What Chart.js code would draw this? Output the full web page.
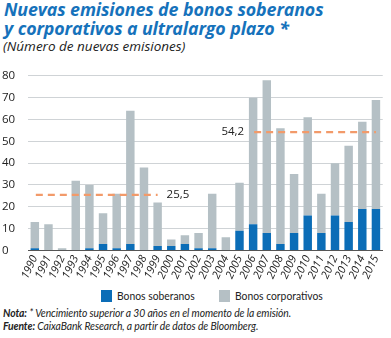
<!DOCTYPE html>
<html>
<head>
<meta charset="utf-8">
<script src="https://cdn.jsdelivr.net/npm/chart.js@4/dist/chart.umd.min.js"></script>
<style>
  html, body { margin: 0; padding: 0; background: #fff; }
  body { width: 391px; height: 338px; position: relative; overflow: hidden; font-family: "Open Sans", sans-serif; }
  #title { position: absolute; left: 4px; top: 0px; font-weight: bold; font-style: italic; color: #1672bb; font-size: 17.8px; line-height: 18.5px; letter-spacing: -0.1px; }
  #sub { position: absolute; left: 3px; top: 37px; font-style: italic; color: #222; font-size: 13.5px; }
  #wrap { position: absolute; left: 0; top: 59px; width: 391px; height: 225px; }
  #legend { position: absolute; top: 288px; left: 0; width: 391px; font-family: Lato, sans-serif; font-size: 12px; color: #222; }
  #legend span.item { position: absolute; top: 0; white-space: nowrap; }
  #legend i { display: inline-block; width: 11px; height: 12px; vertical-align: -2px; margin-right: 5px; }
  #legend em { font-style: normal; display: inline-block; transform: scaleX(0.86); transform-origin: 0 50%; }
  #notes { position: absolute; left: 3px; top: 306px; font-family: Lato, sans-serif; font-style: italic; font-size: 11px; line-height: 13px; color: #222; letter-spacing: -0.1px; transform: scaleX(0.94); transform-origin: 0 0; white-space: nowrap; }
  #notes b { font-weight: bold; }
</style>
</head>
<body>
<div id="title">Nuevas emisiones de bonos soberanos<br>y corporativos a ultralargo plazo *</div>
<div id="sub">(Número de nuevas emisiones)</div>
<div id="wrap"><canvas id="c"></canvas></div>
<div id="legend"></div>
<div id="notes"><b>Nota:</b> * Vencimiento superior a 30 años en el momento de la emisión.<br><b>Fuente:</b> CaixaBank Research, a partir de datos de Bloomberg.</div>
<script>
const years = ["1990","1991","1992","1993","1994","1995","1996","1997","1998","1999","2000","2001","2002","2003","2004","2005","2006","2007","2008","2009","2010","2011","2012","2013","2014","2015"];
// Total new issues per year and the sovereign part of them
const totalIssues = [13,12,1,32,30,17,26,64,38,22,5,7,8,26,6,31,70,78,56,35,61,26,40,48,59,69];
const sovereign   = [1,0,0,0,1,3,1,3,0,2,2,3,1,1,0,9,12,8,3,8,16,8,16,13,19,19];
const corporate   = totalIssues.map((t, i) => t - sovereign[i]);
// Period averages: [value, first year, last year]
const averages = [
  { value: 25.5, from: "1990", to: "1999", label: "25,5", side: "right" },
  { value: 54.2, from: "2006", to: "2015", label: "54,2", side: "left" }
];
const yTicks = [0,10,20,30,40,50,60,70,80];
const seriesNames = ["Bonos soberanos", "Bonos corporativos"];
const seriesColors = ["#0b6db7", "#b5c0c5"];

const averageLines = {
  id: 'averageLines',
  afterDatasetsDraw(chart) {
    const { ctx, scales: { x, y } } = chart;
    ctx.save();
    averages.forEach(a => {
      const x0 = x.getPixelForValue(years.indexOf(a.from));
      const x1 = x.getPixelForValue(years.indexOf(a.to));
      const py = y.getPixelForValue(a.value);
      ctx.strokeStyle = '#f29a6a';
      ctx.lineWidth = 2.2;
      ctx.setLineDash([7, 5]);
      ctx.beginPath();
      ctx.moveTo(x0 + 1, py);
      ctx.lineTo(x1, py);
      ctx.stroke();
      ctx.setLineDash([]);
      ctx.fillStyle = '#222';
      ctx.font = '11.5px "Open Sans", sans-serif';
      ctx.textBaseline = 'middle';
      if (a.side === 'right') {
        ctx.textAlign = 'left';
        ctx.fillText(a.label, x1 + 9, py);
      } else {
        ctx.textAlign = 'right';
        ctx.fillText(a.label, x0 - 9, py);
      }
    });
    ctx.restore();
  }
};

// Legend drawn below the plot
const legendEl = document.getElementById('legend');
const legendX = [101, 219];
seriesNames.forEach((n, i) => {
  const s = document.createElement('span');
  s.className = 'item';
  s.style.left = legendX[i] + 'px';
  s.innerHTML = '<i style="background:' + seriesColors[i] + '"></i><em>' + n + '</em>';
  legendEl.appendChild(s);
});

new Chart(document.getElementById('c'), {
  type: 'bar',
  data: {
    labels: years,
    datasets: [
      { label: seriesNames[0], data: sovereign, backgroundColor: seriesColors[0], barPercentage: 0.62, categoryPercentage: 1 },
      { label: seriesNames[1], data: corporate, backgroundColor: seriesColors[1], barPercentage: 0.62, categoryPercentage: 1 }
    ]
  },
  options: {
    responsive: true,
    maintainAspectRatio: false,
    animation: false,
    layout: { padding: { left: 2, right: 5, top: 6, bottom: 0 } },
    plugins: {
      legend: { display: false },
      tooltip: { enabled: false }
    },
    scales: {
      x: {
        stacked: true,
        offset: true,
        grid: { display: false, drawTicks: false },
        border: { display: true, color: '#555', width: 1 },
        ticks: {
          maxRotation: 65, minRotation: 65, autoSkip: false, padding: 3,
          color: '#222',
          font: { family: '"Open Sans", sans-serif', size: 11, style: 'italic' }
        }
      },
      y: {
        stacked: true,
        min: 0, max: 80,
        afterBuildTicks(axis) { axis.ticks = yTicks.map(v => ({ value: v })); },
        afterFit(axis) { axis.width = 26; },
        grid: { color: '#cfd3d6', lineWidth: 1, drawTicks: false },
        border: { display: false },
        ticks: {
          padding: 10, color: '#222', crossAlign: 'far',
          font: { family: '"Open Sans", sans-serif', size: 11.5 }
        }
      }
    }
  },
  plugins: [averageLines]
});
</script>
</body>
</html>
